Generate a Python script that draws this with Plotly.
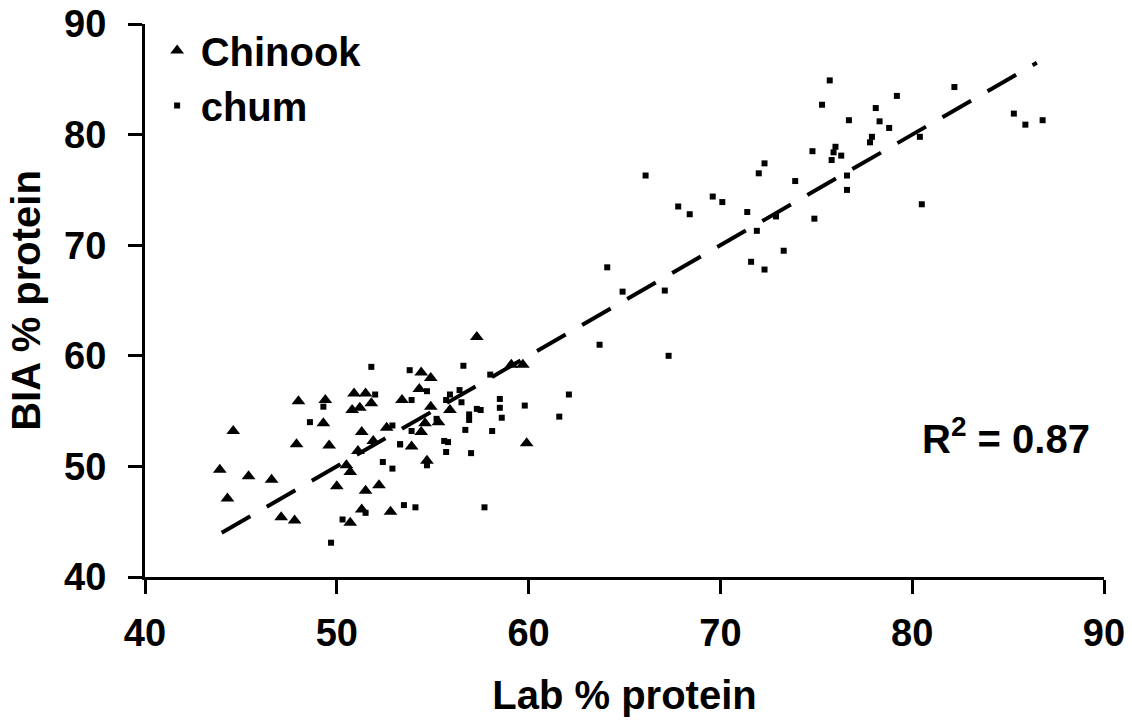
import plotly.graph_objects as go

# Chinook salmon: lab-measured vs BIA-estimated % protein
chinook_lab = [44.6, 43.9, 44.3, 45.4, 46.6, 47.1, 47.8, 48.0, 47.9, 49.4, 49.3, 49.6,
               50.0, 50.5, 50.7, 50.7, 50.9, 51.5, 50.8, 51.2, 51.8, 51.3, 51.1, 51.9,
               52.6, 51.5, 52.2, 51.3, 52.8, 53.4, 54.4, 54.9, 54.3, 54.9, 55.9, 54.6,
               55.3, 54.4, 53.9, 54.7, 57.3, 59.1, 59.7, 59.9]
chinook_bia = [53.2, 49.7, 47.1, 49.1, 48.8, 45.4, 45.1, 55.9, 52.0, 56.0, 53.9, 51.9,
               48.2, 50.1, 49.5, 44.9, 56.6, 56.6, 55.1, 55.3, 55.7, 53.1, 51.4, 52.3,
               53.5, 47.8, 48.3, 46.1, 45.9, 56.0, 58.5, 58.0, 57.0, 55.4, 55.1, 53.9,
               54.0, 53.1, 51.8, 50.5, 61.7, 59.2, 59.2, 52.1]

# chum salmon
chum_lab = [51.8, 52.0, 49.3, 48.6, 52.9, 53.3, 52.4, 52.9, 50.3, 49.7, 51.5,
            53.8, 54.7, 53.9, 56.6, 58.0, 56.4, 55.9, 55.7, 56.5, 57.3, 57.5, 56.9,
            56.9, 58.5, 58.5, 58.6, 59.8, 62.1, 61.6, 55.2, 53.9, 53.3, 56.7, 58.1,
            55.6, 55.8, 55.7, 57.0, 54.7, 53.5, 54.1, 57.7,
            66.1, 64.1, 64.9, 67.1, 63.7, 67.3, 67.8, 68.4, 69.6, 70.1, 71.4, 71.9,
            71.6, 72.3, 72.0, 72.3, 72.9, 75.7, 75.3, 76.7, 74.8, 76.0, 75.9, 76.3,
            75.8, 76.6, 76.6, 73.9, 74.9, 73.3, 78.1, 79.2, 78.3, 78.8, 77.9, 77.8,
            80.4, 80.5, 82.2, 85.3, 85.9, 86.8]
chum_bia = [59.0, 56.5, 55.4, 54.0, 53.7, 52.0, 50.4, 49.8, 45.2, 43.1, 45.8,
            58.7, 56.8, 56.0, 59.1, 58.3, 56.9, 56.5, 56.0, 55.8, 55.2, 55.1, 54.7,
            54.2, 56.1, 55.3, 54.4, 55.5, 56.5, 54.5, 54.3, 53.2, 52.0, 53.3, 53.2,
            52.3, 52.2, 51.3, 51.2, 50.1, 46.5, 46.3, 46.3,
            76.3, 68.0, 65.8, 65.9, 61.0, 60.0, 73.5, 72.8, 74.4, 73.9, 73.0, 71.3,
            68.5, 67.8, 76.5, 77.4, 72.6, 84.9, 82.7, 81.3, 78.5, 78.9, 78.4, 78.1,
            77.7, 76.3, 75.0, 75.8, 72.4, 69.5, 82.4, 83.5, 81.2, 80.6, 79.8, 79.3,
            79.8, 73.7, 84.3, 81.9, 80.9, 81.3]

# linear trend line endpoints
fit_x = [44.0, 86.5]
fit_y = [44.0, 86.5]
r2_text = "R<sup>2</sup> = 0.87"

FONT = "Liberation Sans, Arial, sans-serif"

fig = go.Figure()
fig.add_trace(go.Scatter(x=fit_x, y=fit_y, mode="lines", showlegend=False,
                         line=dict(color="black", width=4, dash="33px,19px"),
                         hoverinfo="skip"))
fig.add_trace(go.Scatter(x=chinook_lab, y=chinook_bia, mode="markers", name="Chinook",
                         marker=dict(symbol="triangle-up", size=12, color="black")))
fig.add_trace(go.Scatter(x=chum_lab, y=chum_bia, mode="markers", name="chum",
                         marker=dict(symbol="square", size=6, color="black")))

axis_common = dict(
    showgrid=False, zeroline=False, showline=True, linecolor="black", linewidth=3,
    ticks="outside", ticklen=14, tickwidth=3, tickcolor="black",
    tickfont=dict(family=FONT, size=38, color="black", weight="bold"),
    dtick=10, tick0=40, range=[40, 90], automargin=False,
)

fig.update_layout(
    width=1132, height=725,
    margin=dict(l=145, r=28, t=24, b=148),
    paper_bgcolor="white", plot_bgcolor="white",
    font=dict(family=FONT, color="black"),
    xaxis=dict(**axis_common, ticklabelstandoff=6,
               title=dict(text="<b>Lab % protein</b>", font=dict(family=FONT, size=40),
                          standoff=29)),
    yaxis=dict(**axis_common, ticklabelstandoff=14,
               title=dict(text="<b>BIA % protein</b>", font=dict(family=FONT, size=40),
                          standoff=12)),
    legend=dict(x=0.009, y=1.011, xanchor="left", yanchor="top",
                font=dict(family=FONT, size=40, color="black", weight="bold"),
                bgcolor="rgba(0,0,0,0)", itemwidth=37),
    annotations=[dict(x=80.4, y=52.75, xref="x", yref="y", text="<b>" + r2_text + "</b>",
                      showarrow=False, xanchor="left", yanchor="middle",
                      font=dict(family=FONT, size=40, color="black"))],
)

fig.write_html("out.html")
